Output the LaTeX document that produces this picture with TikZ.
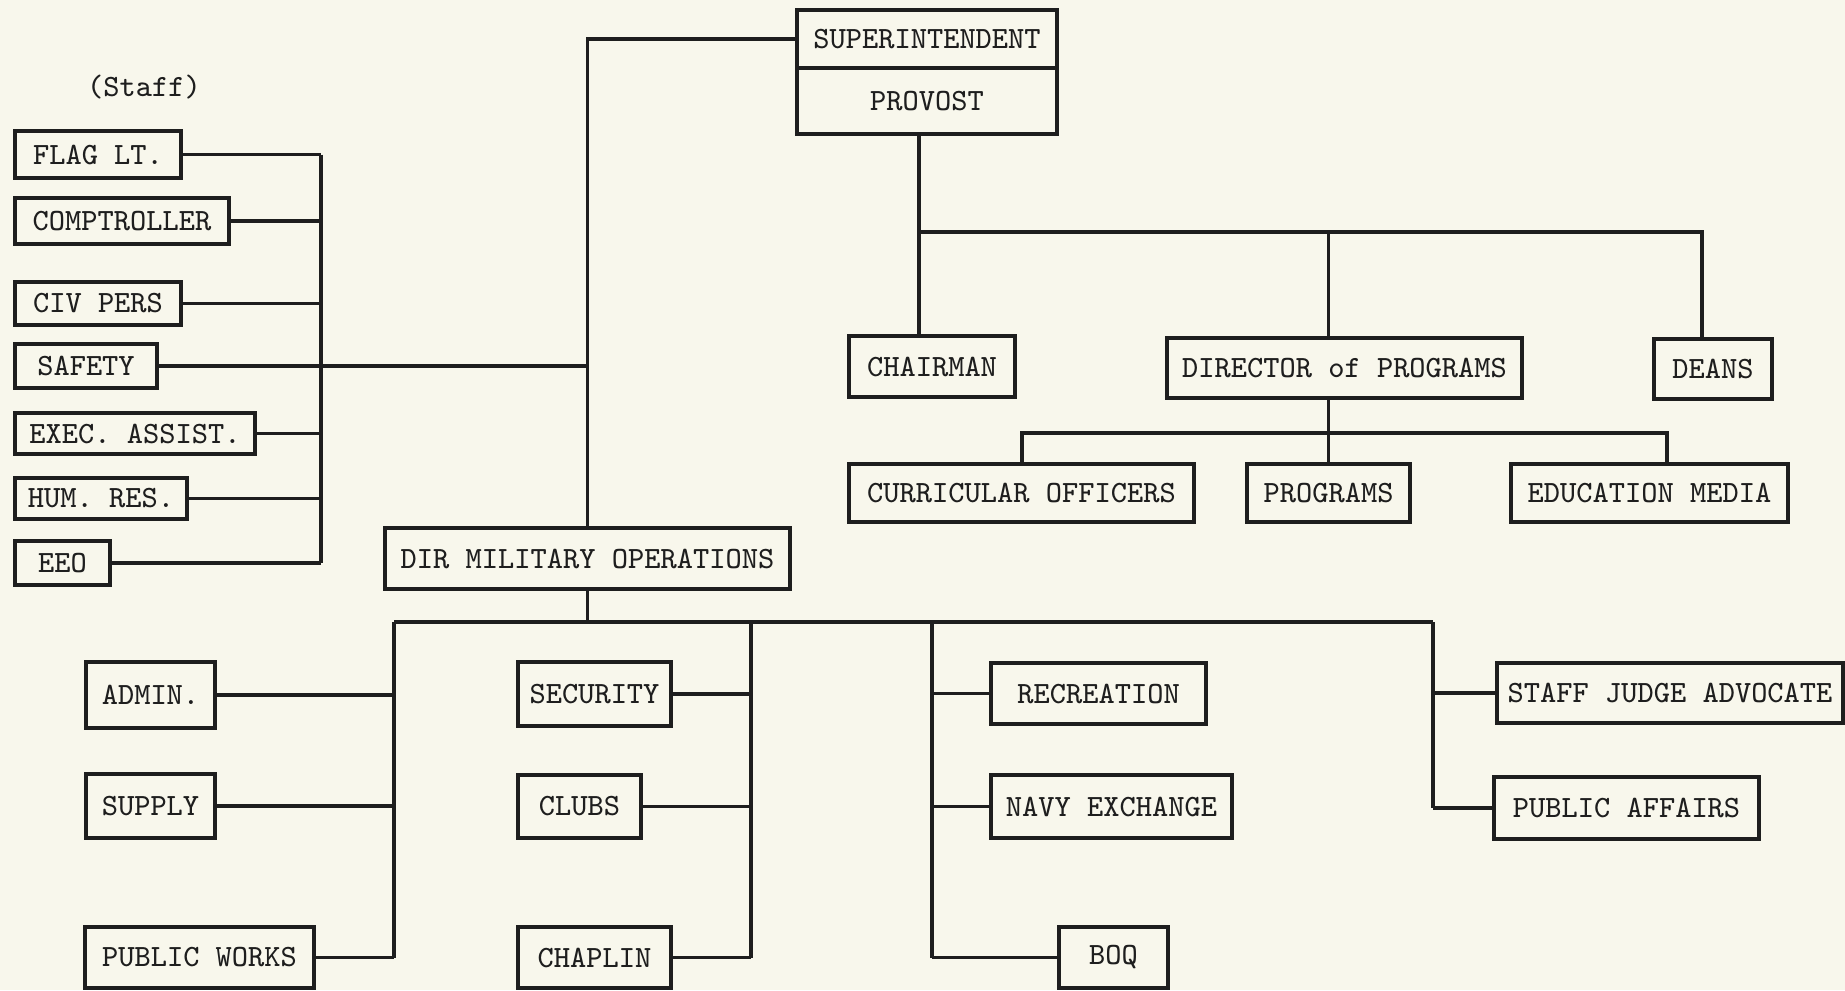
\documentclass[tikz,border=0pt]{standalone}
\usepackage{fontspec}
\definecolor{paper}{RGB}{248,247,236}
\definecolor{ink}{RGB}{30,30,30}

\tikzset{
  unitbox/.style={draw=ink, line width=1pt, inner sep=1pt,
    font=\fontsize{8.8}{10}\selectfont\ttfamily, text=ink},
  link/.style={draw=ink, line width=0.9pt}
}

% box from its corners: name, left, top, right, bottom, text
\newcommand{\orgunit}[6]{
  \pgfmathsetmacro\bw{(#4-#2)*0.01}
  \pgfmathsetmacro\bh{(#5-#3)*0.01}
  \node[unitbox, minimum width=\bw cm, minimum height=\bh cm]
    (#1) at ({(#2+#4)/2},{(#3+#5)/2}) {#6};
}

\begin{document}
\begin{tikzpicture}[x=0.01cm, y=-0.01cm]

\fill[paper] (0,0) rectangle (1845,990);
\useasboundingbox (0,0) rectangle (1845,990);

% top
\orgunit{super}{797}{10}{1057}{68}{SUPERINTENDENT}
\orgunit{provost}{797}{68}{1057}{134}{PROVOST}

% staff
\node[font=\fontsize{8.8}{10}\selectfont\ttfamily, text=ink] (stafflabel) at (144,87) {(Staff)};
\foreach \n/\l/\t/\r/\b/\txt in {flag/15/131/181/178/FLAG LT., comp/15/198/229/244/COMPTROLLER,
                    civpers/15/282/181/325/CIV PERS, safety/15/344/157/388/SAFETY,
                    exec/15/413/255/454/EXEC. ASSIST., humres/15/478/187/519/HUM. RES.,
                    eeo/15/541/110/585/EEO}
  {
    \orgunit{\n}{\l}{\t}{\r}{\b}{\txt}
  }

\orgunit{dirmil}{385}{528}{790}{589}{DIR MILITARY OPERATIONS}

% academic side
\foreach \n/\l/\t/\r/\b/\txt in {chairman/849/336/1015/397/CHAIRMAN, dirprog/1167/338/1522/398/DIRECTOR of PROGRAMS,
                    deans/1654/339/1772/399/DEANS, curric/849/464/1194/522/CURRICULAR OFFICERS,
                    programs/1247/464/1410/522/PROGRAMS, edumedia/1511/464/1788/522/EDUCATION MEDIA}
  {
    \orgunit{\n}{\l}{\t}{\r}{\b}{\txt}
  }

% military side
\foreach \n/\l/\t/\r/\b/\txt in {admin/86/662/215/728/ADMIN., supply/86/774/215/838/SUPPLY,
                    pubworks/85/927/314/988/PUBLIC WORKS, security/518/662/671/726/SECURITY,
                    clubs/518/775/641/838/CLUBS, chaplin/518/927/671/988/CHAPLIN,
                    recreation/991/663/1206/724/RECREATION, navyex/991/775/1232/838/NAVY EXCHANGE,
                    boq/1059/927/1168/988/BOQ, sja/1497/663/1843/723/STAFF JUDGE ADVOCATE,
                    pubaff/1494/777/1759/839/PUBLIC AFFAIRS}
  {
    \orgunit{\n}{\l}{\t}{\r}{\b}{\txt}
  }

% connectors
\coordinate (staffbus) at (321,152);
\coordinate (acadbus) at (919,232);
\coordinate (deansdrop) at (1702,232);
\coordinate (progbus) at (1022,433);
\coordinate (edudrop) at (1667,433);
\coordinate (busa) at (394,622);
\coordinate (busb) at (751,622);
\coordinate (busc) at (932,622);
\coordinate (busd) at (1433,622);

\draw[link] (super.west) -| (dirmil.north);
\draw[link] (safety.east) -- (safety.east -| dirmil.north);
\draw[link] (flag.east -| staffbus) -- (eeo.east -| staffbus);
\foreach \s in {flag,comp,civpers,exec,humres,eeo}
  \draw[link] (\s.east) -- (\s.east -| staffbus);

\draw[link] (provost.south -| acadbus) -- (chairman.north -| acadbus);
\draw[link] (acadbus) -- (deansdrop) -- (deansdrop |- deans.north);
\draw[link] (programs.north |- acadbus) -- (programs.north |- dirprog.north);
\draw[link] (dirprog.south -| programs.north) -- (programs.north);
\draw[link] (curric.north -| progbus) |- (edudrop) -- (edudrop |- edumedia.north);

\draw[link] (dirmil.south) -- (dirmil.south |- busa);
\draw[link] (busa) -- (busd);
\draw[link] (busa) -- (busa |- pubworks.east);
\draw[link] (busb) -- (busb |- chaplin.east);
\draw[link] (busc) -- (busc |- boq.west);
\draw[link] (busd) -- (busd |- pubaff.west);
\foreach \s in {admin,supply,pubworks}
  \draw[link] (\s.east) -- (\s.east -| busa);
\foreach \s in {security,clubs,chaplin}
  \draw[link] (\s.east) -- (\s.east -| busb);
\foreach \s in {recreation,navyex,boq}
  \draw[link] (busc |- \s.west) -- (\s.west);
\foreach \s in {sja,pubaff}
  \draw[link] (busd |- \s.west) -- (\s.west);

\end{tikzpicture}
\end{document}
